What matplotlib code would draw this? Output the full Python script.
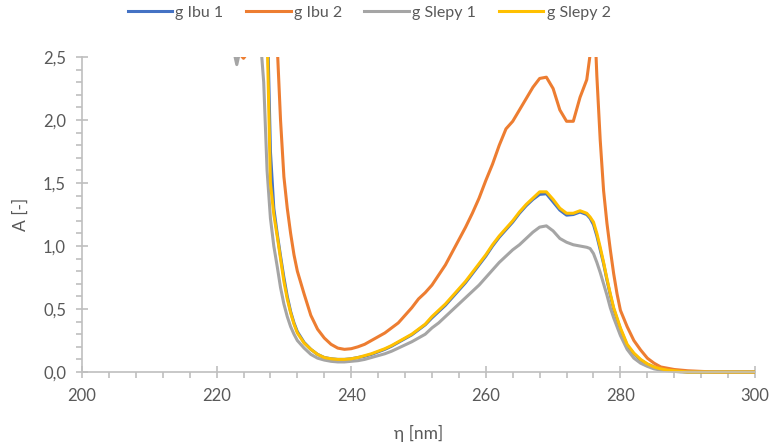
import numpy as np
import matplotlib.pyplot as plt
from matplotlib.ticker import MultipleLocator, FuncFormatter
from matplotlib.transforms import Bbox, TransformedBbox

plt.rcParams['font.family'] = ['Lato', 'DejaVu Sans']

# wavelength grid (nm)
wl = [200, 205, 210, 215, 220, 221, 222, 222.5, 223, 223.5, 224, 225, 226, 227,
      227.5, 228, 228.5, 229, 229.5, 230, 230.5, 231, 231.5, 232,
      233, 234, 235, 236, 237, 238, 239, 240, 241, 242, 243, 244, 245, 246, 247, 248, 249, 250,
      251, 252, 253, 254, 255, 256, 257, 258, 259, 260, 261, 262, 263, 264, 265, 266, 267, 268,
      269, 270, 271, 272, 273, 274, 275,
      275.5, 276, 276.5, 277, 277.5, 278, 278.5, 279, 279.5, 280,
      281, 282, 283, 284, 285, 286, 287, 288, 289, 290,
      292, 294, 296, 298, 300]

ibu1 = [3.5, 3.5, 3.5, 3.5, 3.4, 3.3, 3.2, 3.1, 3.1, 3.0, 3.0, 3.0, 3.0, 3.3,
        2.9, 1.75, 1.3, 1.1, 0.92, 0.75, 0.6, 0.48, 0.39, 0.32,
        0.235, 0.18, 0.14, 0.115, 0.105, 0.10, 0.10, 0.105, 0.115, 0.125, 0.14, 0.16, 0.18, 0.205, 0.235, 0.265, 0.295, 0.335,
        0.375, 0.43, 0.48, 0.53, 0.59, 0.65, 0.71, 0.78, 0.85, 0.92, 1.0, 1.07, 1.13, 1.19, 1.26, 1.32, 1.37, 1.41,
        1.415, 1.35, 1.285, 1.245, 1.25, 1.27, 1.25,
        1.22, 1.17, 1.08, 0.97, 0.86, 0.73, 0.61, 0.5, 0.42, 0.34,
        0.21, 0.145, 0.095, 0.062, 0.04, 0.025, 0.015, 0.01, 0.005, 0.0,
        0.0, 0.0, 0.0, 0.0, 0.0]

ibu2 = [3.5, 3.5, 3.5, 3.5, 3.2, 3.0, 2.9, 2.8, 2.7, 2.52, 2.49, 2.56, 2.8, 3.0,
        3.1, 3.0, 2.9, 2.6, 2.0, 1.55, 1.3, 1.1, 0.93, 0.8,
        0.62, 0.45, 0.34, 0.27, 0.22, 0.19, 0.18, 0.185, 0.2, 0.22, 0.25, 0.28, 0.31, 0.35, 0.39, 0.45, 0.51, 0.58,
        0.63, 0.69, 0.77, 0.85, 0.95, 1.05, 1.15, 1.26, 1.38, 1.52, 1.65, 1.8, 1.93, 1.99, 2.08, 2.17, 2.26, 2.33,
        2.34, 2.25, 2.08, 1.99, 1.99, 2.18, 2.32,
        2.52, 3.0, 2.35, 1.84, 1.44, 1.18, 0.97, 0.78, 0.62, 0.49,
        0.36, 0.25, 0.175, 0.11, 0.07, 0.04, 0.03, 0.02, 0.015, 0.01,
        0.005, 0.0, 0.0, 0.0, 0.0]

slepy1 = [3.5, 3.5, 3.5, 3.5, 3.3, 3.0, 2.7, 2.56, 2.44, 2.56, 3.0, 3.0, 3.0, 2.3,
          1.6, 1.22, 1.0, 0.84, 0.67, 0.54, 0.44, 0.36, 0.3, 0.25,
          0.19, 0.14, 0.11, 0.095, 0.085, 0.08, 0.08, 0.085, 0.09, 0.1, 0.115, 0.13, 0.145, 0.165, 0.19, 0.215, 0.24, 0.27,
          0.3, 0.35, 0.39, 0.44, 0.49, 0.54, 0.59, 0.64, 0.69, 0.75, 0.81, 0.87, 0.92, 0.97, 1.01, 1.06, 1.11, 1.15,
          1.16, 1.12, 1.06, 1.03, 1.01, 1.0, 0.99,
          0.98, 0.94, 0.87, 0.79, 0.7, 0.61, 0.51, 0.43, 0.36, 0.29,
          0.18, 0.11, 0.07, 0.045, 0.025, 0.015, 0.01, 0.005, 0.0, 0.0,
          0.0, 0.0, 0.0, 0.0, 0.0]

slepy2 = [3.5, 3.5, 3.5, 3.5, 3.4, 3.3, 3.2, 3.1, 3.1, 3.0, 3.0, 2.95, 2.9, 3.2,
          2.7, 1.5, 1.25, 1.08, 0.9, 0.72, 0.58, 0.47, 0.38, 0.31,
          0.23, 0.18, 0.14, 0.115, 0.105, 0.1, 0.1, 0.105, 0.115, 0.13, 0.145, 0.165, 0.185, 0.21, 0.24, 0.27, 0.3, 0.34,
          0.38, 0.44, 0.49, 0.54, 0.6, 0.66, 0.72, 0.79, 0.86, 0.93, 1.01, 1.08, 1.14, 1.2, 1.27, 1.33, 1.38, 1.43,
          1.43, 1.37, 1.3, 1.26, 1.26, 1.28, 1.26,
          1.23, 1.19, 1.1, 0.99, 0.87, 0.74, 0.62, 0.51, 0.43, 0.35,
          0.22, 0.15, 0.1, 0.065, 0.04, 0.025, 0.015, 0.01, 0.005, 0.0,
          0.0, 0.0, 0.0, 0.0, 0.0]

names = ['g Ibu 1', 'g Ibu 2', 'g Slepy 1', 'g Slepy 2']
colors = ['#4472C4', '#ED7D31', '#A5A5A5', '#FFC000']

fig = plt.figure(figsize=(7.72, 4.48), dpi=100)
ax = fig.add_axes([0.1062, 0.1696, 0.8718, 0.7031])

# clip only at the top/sides, lines sitting on 0 stay fully visible
clip = TransformedBbox(Bbox([[0, -0.05], [1, 1]]), ax.transAxes)
for y, name, c in zip([ibu1, ibu2, slepy1, slepy2], names, colors):
	line, = ax.plot(wl, y, color=c, lw=2.2, label=name, solid_joinstyle='round')
	line.set_clip_box(clip)

ax.set_xlim(200, 300)
ax.set_ylim(0, 2.5)
ax.xaxis.set_major_locator(MultipleLocator(20))
ax.xaxis.set_minor_locator(MultipleLocator(4))
ax.yaxis.set_major_locator(MultipleLocator(0.5))
ax.yaxis.set_minor_locator(MultipleLocator(0.1))
ax.yaxis.set_major_formatter(FuncFormatter(lambda v, p: f'{v:.1f}'.replace('.', ',')))

for s in ['top', 'right']:
	ax.spines[s].set_visible(False)
for s in ['left', 'bottom']:
	ax.spines[s].set_color('#BFBFBF')
	ax.spines[s].set_linewidth(1.2)
ax.tick_params(which='major', direction='inout', length=9, width=1.2, color='#BFBFBF',
			   labelsize=12, labelcolor='#595959', pad=7)
ax.tick_params(which='minor', direction='out', length=4, width=1.2, color='#BFBFBF')

ax.set_xlabel('η [nm]', fontsize=12.5, color='#595959', labelpad=15)
ax.set_ylabel('A [-]', fontsize=12.5, color='#595959', labelpad=10)

fig.legend(loc='center', bbox_to_anchor=(0.478, 0.971), ncol=4, frameon=False,
		   fontsize=11.5, labelcolor='#595959', handlelength=2.8, handletextpad=0.2,
		   columnspacing=1.4, borderaxespad=0)

fig.savefig('out.png', dpi=100)
